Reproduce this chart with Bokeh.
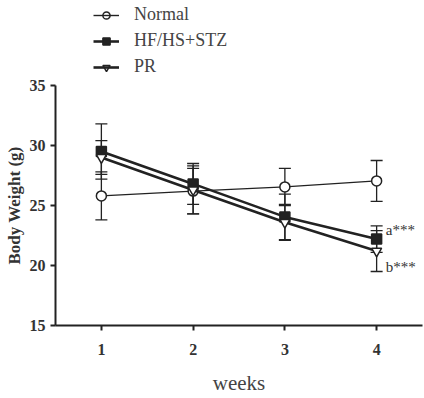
from bokeh.plotting import figure
from bokeh.layouts import column
from bokeh.models import ColumnDataSource, Whisker, Legend, LegendItem, FixedTicker, Range1d
from bokeh.core.properties import value
from bokeh.embed import file_html
from bokeh.resources import INLINE

weeks = [1, 2, 3, 4]
normal_mean = [25.8, 26.2, 26.55, 27.05]
normal_err = [2.0, 1.9, 1.55, 1.7]
hf_mean = [29.5, 26.8, 24.05, 22.2]
hf_err = [2.3, 1.7, 1.9, 1.1]
pr_mean = [29.0, 26.3, 23.6, 21.2]
pr_err = [1.4, 2.0, 1.5, 1.7]
series_names = ["Normal", "HF/HS+STZ", "PR"]
annot_text = ["a***", "b***"]
annot_x = [4.1, 4.1]
annot_y = [22.95, 19.9]
y_ticks = [15, 20, 25, 30, 35]

SERIF = "Liberation Serif"
INK = "#222222"
styles = [("circle", 1.4, "white"), ("square", 2.6, INK), ("inverted_triangle", 2.6, "white")]
means = [normal_mean, hf_mean, pr_mean]
errs = [normal_err, hf_err, pr_err]

# ---------- main chart ----------
p = figure(width=424, height=323, output_backend="svg", toolbar_location=None,
           x_range=Range1d(0.5, 4.5), y_range=Range1d(15, 35),
           min_border_left=55, min_border_right=2, min_border_top=10, min_border_bottom=73)
p.outline_line_color = None
p.xgrid.visible = False
p.ygrid.visible = False

# ---------- legend strip (frame-aligned with main chart) ----------
lg = figure(width=424, height=75, output_backend="svg", toolbar_location=None,
            x_axis_type=None, y_axis_type=None, x_range=Range1d(100, 101), y_range=Range1d(100, 101),
            min_border=0)
lg.outline_line_color = None
lg.xgrid.visible = False
lg.ygrid.visible = False

items = []
for name, mean, err, (marker, lw, fill) in zip(series_names, means, errs, styles):
    src = ColumnDataSource(dict(x=weeks, y=mean,
                                lo=[m - e for m, e in zip(mean, err)],
                                hi=[m + e for m, e in zip(mean, err)]))
    w = Whisker(base="x", lower="lo", upper="hi", source=src, line_color=INK, line_width=1.3)
    for h in (w.upper_head, w.lower_head):
        h.size = 12
        h.line_color = INK
        h.line_width = 1.3
    p.add_layout(w)
    p.line("x", "y", source=src, line_color=INK, line_width=lw)
    p.scatter("x", "y", source=src, marker=marker, size=10, line_color=INK,
              line_width=1.5, fill_color=fill)
    # legend proxies: same data, drawn outside the strip's visible range
    ln = lg.line("x", "y", source=src, line_color=INK, line_width=lw)
    sc = lg.scatter("x", "y", source=src, marker=marker, size=10, line_color=INK,
                    line_width=1.5, fill_color=(None if fill == "white" else fill))
    items.append(LegendItem(label=name, renderers=[ln, sc]))

legend = Legend(items=items, location=(38, -2), orientation="vertical",
                background_fill_alpha=0, border_line_color=None,
                padding=0, margin=0, spacing=5, glyph_width=26, glyph_height=18,
                label_standoff=15, label_text_font=SERIF, label_text_font_size="18px",
                label_text_color="#444444", label_height=18)
lg.add_layout(legend, "center")

p.text(x=annot_x, y=annot_y, text=annot_text, text_font=value(SERIF),
       text_font_size="15px", text_color="#333333", text_baseline="middle", text_align="left")

for ax in (p.xaxis[0], p.yaxis[0]):
    ax.axis_line_width = 2
    ax.axis_line_color = INK
    ax.major_tick_line_width = 2
    ax.major_tick_line_color = INK
    ax.minor_tick_line_color = None
    ax.major_tick_in = 0
    ax.major_tick_out = 5
    ax.major_label_text_font = SERIF
    ax.major_label_text_font_style = "bold"
    ax.major_label_text_font_size = "16px"
    ax.major_label_text_color = "#333333"
    ax.axis_label_text_font = SERIF

p.xaxis.ticker = FixedTicker(ticks=weeks)
p.yaxis.ticker = FixedTicker(ticks=y_ticks)
p.xaxis.major_label_standoff = 13
p.yaxis.major_label_standoff = 5
p.xaxis.axis_label = "weeks"
p.xaxis.axis_label_text_font_style = "normal"
p.xaxis.axis_label_text_font_size = "21px"
p.xaxis.axis_label_text_color = "#444444"
p.xaxis.axis_label_standoff = 13
p.yaxis.axis_label = "Body Weight (g)"
p.yaxis.axis_label_text_font_style = "bold"
p.yaxis.axis_label_text_font_size = "17px"
p.yaxis.axis_label_text_color = "#333333"
p.yaxis.axis_label_standoff = 3

layout = column(lg, p, spacing=0)
open("out.html", "w").write(file_html(layout, INLINE))
